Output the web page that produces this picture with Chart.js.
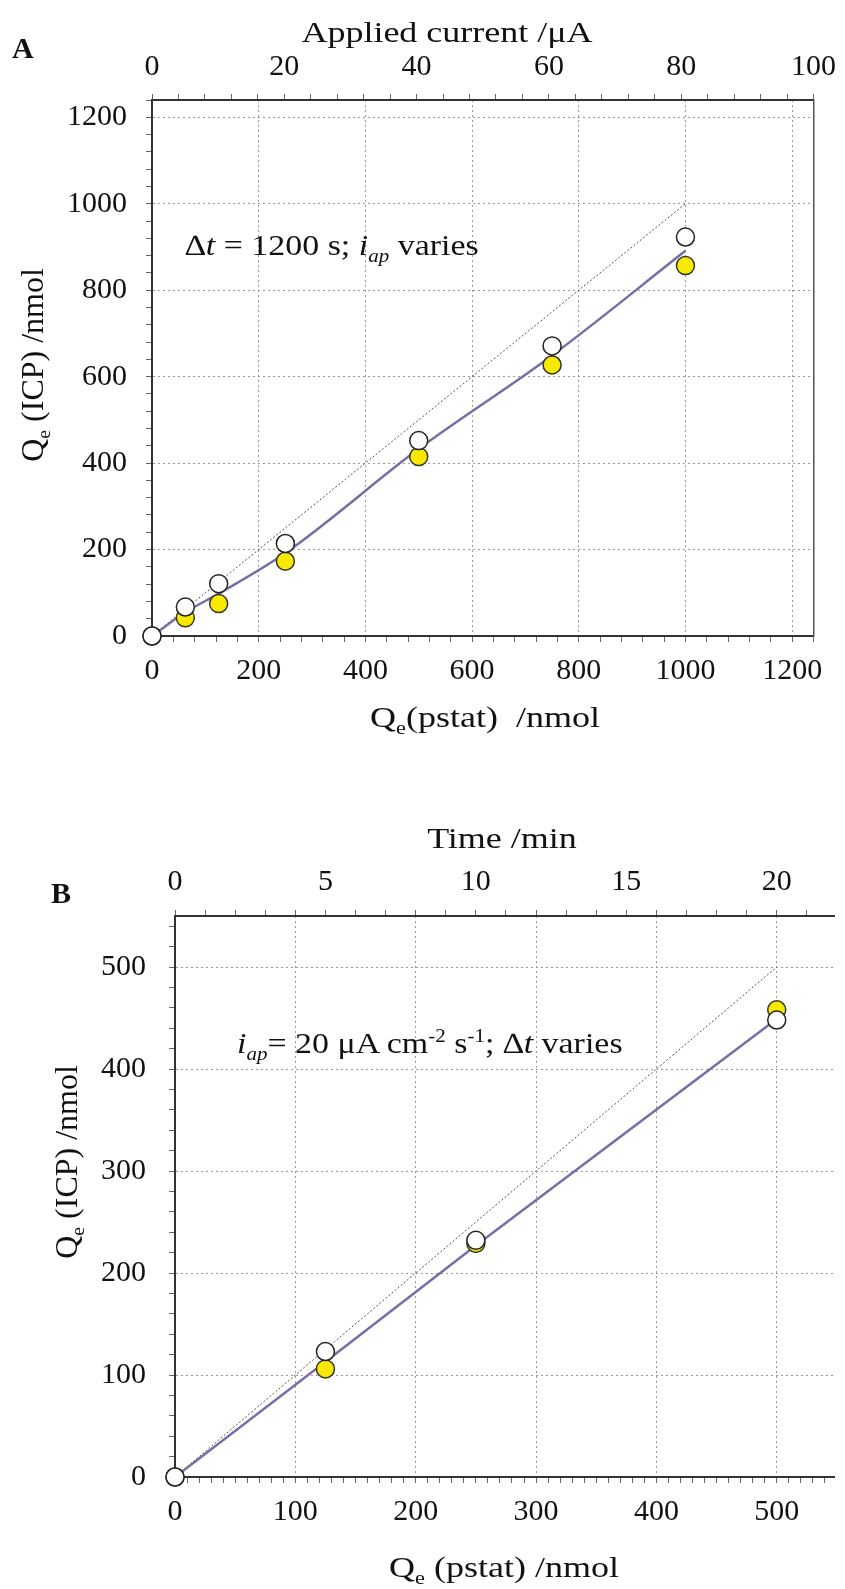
<!DOCTYPE html>
<html>
<head>
<meta charset="utf-8">
<script src="https://cdn.jsdelivr.net/npm/chart.js@4.4.1/dist/chart.umd.min.js"></script>
<style>
  body { margin: 0; background: #fff; }
  #page { position: relative; width: 845px; height: 1589px; overflow: hidden; font-family: "Liberation Serif", "Times New Roman", serif; color: #111; }
  canvas { position: absolute; left: 0; }
  .lbl { position: absolute; white-space: nowrap; line-height: 1; }
  .ctr { transform: translateX(-50%) scaleX(1.2); }
  .note { transform-origin: 0 50%; transform: scaleX(1.17); }
  .rot { transform: translate(-50%, -50%) rotate(-90deg); }
  sub, sup { font-size: 0.62em; line-height: 0; }
</style>
</head>
<body>
<div id="page">
  <canvas id="chartA" width="845" height="770" style="top:0px"></canvas>
  <canvas id="chartB" width="845" height="809" style="top:780px"></canvas>

  <div class="lbl" style="left:12px; top:33px; font-size:30px; font-weight:bold;">A</div>
  <div class="lbl ctr" style="left:447px; top:17px; font-size:30px;">Applied current /μA</div>
  <div class="lbl rot" style="left:32px; top:365px; font-size:32px;">Q<sub>e</sub> (ICP) /nmol</div>
  <div class="lbl ctr" style="left:485px; top:702px; font-size:30px;">Q<sub>e</sub>(pstat)&nbsp; /nmol</div>
  <div class="lbl note" style="left:185px; top:231px; font-size:29px;"><i>∆t</i> = 1200 s; <i>i<sub>ap</sub></i> varies</div>

  <div class="lbl" style="left:51px; top:878px; font-size:30px; font-weight:bold;">B</div>
  <div class="lbl ctr" style="left:502px; top:823px; font-size:30px;">Time /min</div>
  <div class="lbl rot" style="left:66px; top:1162px; font-size:32px;">Q<sub>e</sub> (ICP) /nmol</div>
  <div class="lbl ctr" style="left:504px; top:1552px; font-size:30px;">Q<sub>e</sub> (pstat) /nmol</div>
  <div class="lbl note" style="left:237px; top:1029px; font-size:29px;"><i>i<sub>ap</sub></i>= 20 μA cm<sup>-2</sup> s<sup>-1</sup>; <i>∆t</i> varies</div>
</div>

<script>
// ---- panel A data: dt = 1200 s, applied current varies ----
const aPstat   = [0, 62.5, 125, 250, 500, 750, 1000];
const aIcpOpen = [0, 67, 121, 214, 452, 671, 923];
const aIcpFill = [0, 42, 75, 173, 415, 627, 857];
const aFit     = [0, 55, 98, 192, 433, 649, 891];
const aIdeal   = [0, 1000];
const aXTicks  = [0, 200, 400, 600, 800, 1000, 1200];
const aYTicks  = [0, 200, 400, 600, 800, 1000, 1200];
const aTopTicks = [0, 20, 40, 60, 80, 100];

// ---- panel B data: i_ap = 20 uA cm-2 s-1, dt varies ----
const bPstat   = [0, 125, 250, 500];
const bIcpOpen = [0, 123, 232, 448];
const bIcpFill = [0, 106, 229, 458];
const bFit     = [0, 113, 227, 449];
const bIdeal   = [0, 500];
const bXTicks  = [0, 100, 200, 300, 400, 500];
const bYTicks  = [0, 100, 200, 300, 400, 500];
const bTopTicks = [0, 5, 10, 15, 20];

const FONT = "'Liberation Serif', 'Times New Roman', serif";
const AXIS = '#333';
const GRID = '#9a9a9a';

function pts(xs, ys) {
  return xs.map((x, i) => ({ x: x, y: ys[i] }));
}

function range(max, step) {
  let out = [];
  for (let v = 0; v <= max + 1e-9; v += step) out.push(Math.round(v * 1000) / 1000);
  return out;
}

// linear axis with minor ticks, labels and dotted grid only on the majors
function axis(cfg) {
  return {
    type: 'linear',
    position: cfg.position,
    min: 0,
    max: cfg.max,
    afterBuildTicks: s => { s.ticks = range(cfg.tickMax, cfg.minor).map(v => ({ value: v })); },
    afterFit: cfg.fit,
    ticks: {
      autoSkip: false,
      maxRotation: 0,
      padding: cfg.pad,
      color: '#111',
      font: { family: FONT, size: 30 },
      callback: v => cfg.labels.includes(v) ? String(v) : ''
    },
    grid: {
      drawOnChartArea: cfg.grid !== false,
      color: c => (c.tick && c.tick.value !== 0 && cfg.labels.includes(c.tick.value)) ? GRID : 'rgba(0,0,0,0)',
      lineWidth: 1,
      tickLength: 6,
      tickColor: '#666',
      tickWidth: 1
    },
    border: { display: true, color: AXIS, width: 2, dash: [2, 3] }
  };
}

function datasets(x, open, fill, fit, ideal, smooth) {
  return [
    {
      data: pts(x, open), showLine: false, order: 0, clip: false,
      pointRadius: 9, pointBackgroundColor: '#ffffff', pointBorderColor: '#222', pointBorderWidth: 1.5
    },
    {
      data: pts(x, fill), showLine: false, order: 1, clip: false,
      pointRadius: 9, pointBackgroundColor: '#f7ea00', pointBorderColor: '#333', pointBorderWidth: 1.5
    },
    {
      data: pts(x, fit), showLine: true, order: 2, pointRadius: 0,
      borderColor: '#7a6da6', borderWidth: 2.5,
      cubicInterpolationMode: smooth ? 'monotone' : 'default'
    },
    {
      data: pts(ideal, ideal), showLine: true, order: 3, pointRadius: 0,
      borderColor: '#555', borderWidth: 1, borderDash: [2, 2]
    }
  ];
}

function baseOptions(padRight) {
  return {
    responsive: false,
    animation: false,
    events: [],
    layout: { padding: { left: 0, right: padRight, top: 0, bottom: 0 } },
    plugins: { legend: { display: false }, tooltip: { enabled: false } }
  };
}

// panel A: plot area 152..815 x 100..636 on a 770px canvas
const optsA = baseOptions(30);
optsA.scales = {
  x: axis({ position: 'bottom', max: 1240, tickMax: 1240, minor: 40, labels: aXTicks, pad: 11,
            fit: s => { s.height = 770 - 636; } }),
  y: axis({ position: 'left', max: 1240, tickMax: 1240, minor: 40, labels: aYTicks, pad: 19,
            fit: s => { s.width = 152; } }),
  x2: axis({ position: 'top', max: 100, tickMax: 100, minor: 4, labels: aTopTicks, pad: 9, grid: false,
             fit: s => { s.height = 100; } }),
  y2: {
    type: 'linear', position: 'right', min: 0, max: 1240,
    afterFit: s => { s.width = 0; },
    ticks: { display: false },
    grid: { drawOnChartArea: false, drawTicks: false },
    border: { display: true, color: '#555', width: 1.5 }
  }
};

new Chart(document.getElementById('chartA'), {
  type: 'scatter',
  data: { datasets: datasets(aPstat, aIcpOpen, aIcpFill, aFit, aIdeal, true) },
  options: optsA
});

// panel B: plot area 175..845 x 136..697 on a 809px canvas (right edge cut off)
const optsB = baseOptions(0);
optsB.scales = {
  x: axis({ position: 'bottom', max: 548, tickMax: 540, minor: 10, labels: bXTicks, pad: 11,
            fit: s => { s.height = 809 - 697; } }),
  y: axis({ position: 'left', max: 550, tickMax: 540, minor: 20, labels: bYTicks, pad: 23,
            fit: s => { s.width = 175; } }),
  x2: axis({ position: 'top', max: 548 / 25, tickMax: 21, minor: 1, labels: bTopTicks, pad: 10, grid: false,
             fit: s => { s.height = 136; } })
};

new Chart(document.getElementById('chartB'), {
  type: 'scatter',
  data: { datasets: datasets(bPstat, bIcpOpen, bIcpFill, bFit, bIdeal, false) },
  options: optsB
});
</script>
</body>
</html>
